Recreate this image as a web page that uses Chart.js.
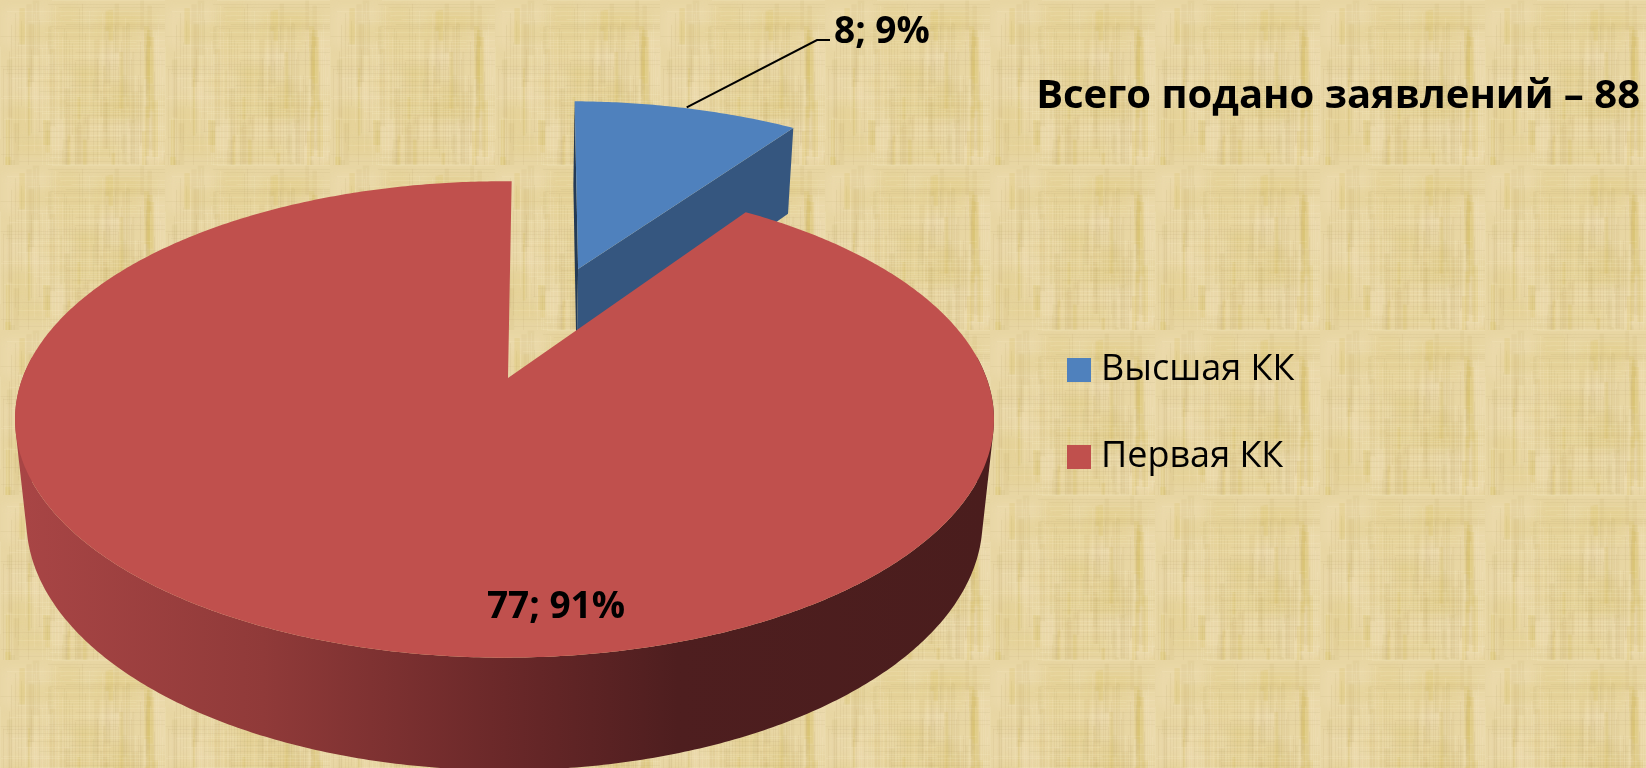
<!DOCTYPE html>
<html>
<head>
<meta charset="utf-8">
<title>Всего подано заявлений</title>
<script src="https://cdn.jsdelivr.net/npm/chart.js@4/dist/chart.umd.min.js"></script>
<style>
  html, body { margin: 0; padding: 0; background: #e8d5a0; overflow: hidden; }
  canvas { display: block; }
</style>
</head>
<body>
<canvas id="chart" width="1646" height="768"></canvas>
<script>
const categories = ['Высшая КК', 'Первая КК'];
const values = [8, 77];
const colors = ['#4f81bd', '#c0504d'];
const sideColors = ['#35567f', '#4a1d1d'];
const chartTitle = 'Всего подано заявлений – 88';

const fontName = '"Open Sans", "Noto Sans", sans-serif';

// the pie is flat for Chart.js, here its unit disk goes through a perspective view
const view = { cx: 504.5, cy: 378, a: 482, b: 231, k: 0.174, m: 0.023, d: 102 };

function project(u, v, low) {
  const w = 1 - view.k * v + (low ? view.m : 0);
  return {
    x: view.cx + view.a * u / w,
    y: view.cy + (view.b * v + (low ? view.d : 0)) / w
  };
}

function slicePoints(el) {
  const r = el.outerRadius;
  const mid = (el.startAngle + el.endAngle) / 2;
  const off = (el.options.offset || 0) / r;
  const ox = off * Math.cos(mid), oy = off * Math.sin(mid);
  const rim = [];
  const steps = Math.ceil((el.endAngle - el.startAngle) / 0.01);
  for (let i = 0; i <= steps; i++) {
    const t = el.startAngle + (el.endAngle - el.startAngle) * i / steps;
    rim.push([ox + Math.cos(t), oy + Math.sin(t)]);
  }
  return { center: [ox, oy], rim, mid };
}

function fillPoly(ctx, pts, style) {
  ctx.beginPath();
  pts.forEach((p, i) => i ? ctx.lineTo(p.x, p.y) : ctx.moveTo(p.x, p.y));
  ctx.closePath();
  ctx.fillStyle = style;
  ctx.fill();
}

// parchment tile, fixed seed so that every run looks the same
function makeTile() {
  const size = 165;
  const tile = document.createElement('canvas');
  tile.width = tile.height = size;
  const c = tile.getContext('2d');
  let seed = 12345;
  const rnd = () => (seed = (seed * 16807) % 2147483647) / 2147483647;
  c.fillStyle = '#e8d6a3';
  c.fillRect(0, 0, size, size);
  c.filter = 'blur(5px)';
  for (let i = 0; i < 30; i++) {
    c.fillStyle = i % 2 ? 'rgba(243,224,190,0.3)' : 'rgba(222,200,125,0.28)';
    c.fillRect(rnd() * size, rnd() * size, 15 + rnd() * 40, 15 + rnd() * 40);
  }
  c.filter = 'blur(0.7px)';
  for (let i = 0; i < 60; i++) {
    const x = rnd() * size, y = rnd() * size, h = 20 + rnd() * 70;
    c.fillStyle = i % 3 ? 'rgba(195,172,105,0.12)' : 'rgba(215,190,90,0.2)';
    c.fillRect(x, y, 2 + rnd() * 5, h);
  }
  c.filter = 'none';
  // fine weave
  for (let x = 0; x < size; x += 2 + Math.floor(rnd() * 3)) {
    c.fillStyle = rnd() < 0.5 ? 'rgba(170,145,85,0.09)' : 'rgba(255,245,215,0.12)';
    const y = rnd() * size * 0.5;
    c.fillRect(x, y, 1, size * 0.5 + rnd() * size * 0.5);
  }
  for (let y = 0; y < size; y += 2 + Math.floor(rnd() * 3)) {
    c.fillStyle = rnd() < 0.5 ? 'rgba(170,145,85,0.08)' : 'rgba(255,245,215,0.14)';
    const x = rnd() * size * 0.5;
    c.fillRect(x, y, size * 0.5 + rnd() * size * 0.5, 1);
  }
  return tile;
}

const pie3d = {
  id: 'pie3d',
  beforeDraw(chart) {
    const ctx = chart.ctx;
    ctx.save();
    ctx.fillStyle = ctx.createPattern(makeTile(), 'repeat');
    ctx.fillRect(0, 0, chart.width, chart.height);
    ctx.restore();
  },
  afterLayout(chart) {
    const l = chart.legend;
    const pad = l.options.labels.padding;
    l.left = 1075 - pad;
    l.right = l.left + l.width;
    l.top = 370 - l.options.labels.font.size / 2 - pad;
    l.bottom = l.top + l.height;
  },
  beforeDatasetsDraw(chart) {
    const ctx = chart.ctx;
    const arcs = chart.getDatasetMeta(0).data;
    ctx.save();

    // back slice first, the big one covers its foot
    const blue = slicePoints(arcs[0]);
    const bc = blue.center, bEnd = blue.rim[blue.rim.length - 1], bStart = blue.rim[0];
    fillPoly(ctx, [project(bc[0], bc[1]), project(bStart[0], bStart[1]), project(bStart[0], bStart[1], true), project(bc[0], bc[1], true)], '#233a56');
    fillPoly(ctx, [project(bc[0], bc[1]), project(bEnd[0], bEnd[1]), project(bEnd[0], bEnd[1], true), project(bc[0], bc[1], true)], sideColors[0]);
    fillPoly(ctx, [project(bc[0], bc[1])].concat(blue.rim.map(p => project(p[0], p[1]))), colors[0]);

    // front wall of the big slice: small quads in one path, all turned the same way
    const red = slicePoints(arcs[1]);
    const front = red.rim.filter(p => p[1] > -0.1);
    const wall = ctx.createLinearGradient(view.cx - view.a, 0, view.cx + view.a, 0);
    wall.addColorStop(0, '#a84545');
    wall.addColorStop(0.25, '#903a39');
    wall.addColorStop(0.5, '#6a2829');
    wall.addColorStop(0.68, '#4e1e1f');
    wall.addColorStop(1, sideColors[1]);
    ctx.beginPath();
    for (let i = 0; i < front.length - 1; i++) {
      const q = [
        project(front[i][0], front[i][1]),
        project(front[i + 1][0], front[i + 1][1]),
        project(front[i + 1][0], front[i + 1][1], true),
        project(front[i][0], front[i][1], true)
      ];
      let area = 0;
      q.forEach((p, j) => {
        const n = q[(j + 1) % 4];
        area += p.x * n.y - n.x * p.y;
      });
      if (area < 0) q.reverse();
      q.forEach((p, j) => j ? ctx.lineTo(p.x, p.y) : ctx.moveTo(p.x, p.y));
      ctx.closePath();
    }
    ctx.fillStyle = wall;
    ctx.fill();

    const apex = project(red.center[0], red.center[1]);
    apex.x += 3.5;
    fillPoly(ctx, [apex].concat(red.rim.map(p => project(p[0], p[1]))), colors[1]);

    // labels with value and share
    const total = values.reduce((s, v) => s + v, 0);
    const text = i => values[i] + '; ' + Math.round(values[i] / total * 100) + '%';
    const mid = [blue.center[0] + Math.cos(blue.mid), blue.center[1] + Math.sin(blue.mid)];
    const from = project(mid[0], mid[1]);
    ctx.beginPath();
    ctx.moveTo(from.x, from.y - 1);
    ctx.lineTo(817, 40);
    ctx.lineTo(830, 40);
    ctx.strokeStyle = '#000';
    ctx.lineWidth = 2;
    ctx.stroke();
    ctx.fillStyle = '#000';
    ctx.font = 'bold 37px ' + fontName;
    ctx.textBaseline = 'middle';
    ctx.textAlign = 'left';
    ctx.fillText(text(0), 834, 32);
    ctx.textAlign = 'center';
    ctx.fillText(text(1), 556, 607);
    ctx.restore();
    return false;
  }
};

new Chart(document.getElementById('chart'), {
  type: 'pie',
  data: {
    labels: categories,
    datasets: [{
      data: values,
      backgroundColor: colors,
      borderWidth: 0,
      offset: [162, 0]
    }]
  },
  options: {
    responsive: false,
    animation: false,
    radius: 300,
    rotation: 1,
    layout: { padding: { right: 6 } },
    plugins: {
      tooltip: { enabled: false },
      title: {
        display: true,
        text: chartTitle,
        align: 'end',
        color: '#000',
        font: { family: fontName, size: 40, weight: 'bold' },
        padding: { top: 73, bottom: 0 }
      },
      legend: {
        position: 'right',
        align: 'start',
        labels: {
          boxWidth: 8,
          boxHeight: 8,
          padding: 51,
          color: '#000',
          font: { family: fontName, size: 36 },
          // thick border on a small box keeps the text close to the square
          generateLabels(chart) {
            return Chart.overrides.pie.plugins.legend.labels.generateLabels(chart).map((item, i) => {
              item.strokeStyle = colors[i];
              item.lineWidth = 16;
              item.lineJoin = 'miter';
              return item;
            });
          }
        }
      }
    }
  },
  plugins: [pie3d]
});
</script>
</body>
</html>
